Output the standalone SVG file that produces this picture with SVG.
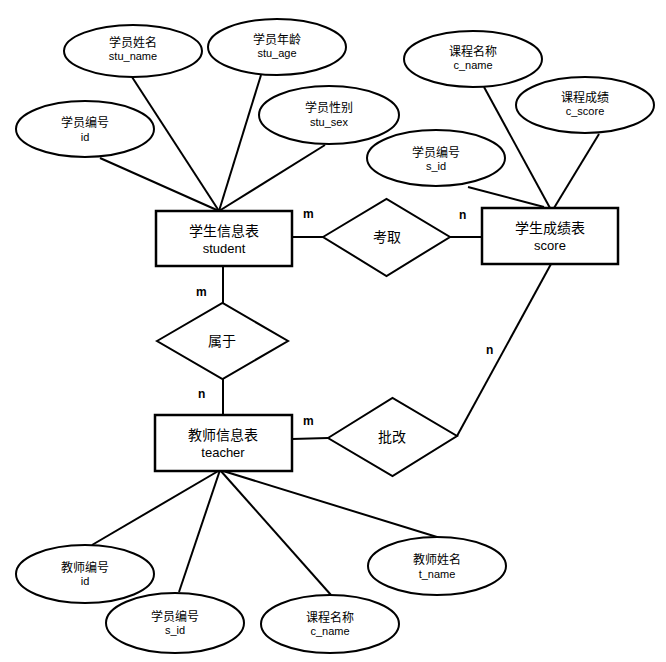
<svg xmlns="http://www.w3.org/2000/svg" width="666" height="662" viewBox="0 0 666 662">
<style>
.e{fill:#fff;stroke:#000;stroke-width:2}
.b{fill:#fff;stroke:#000;stroke-width:2.5}
.d{fill:#fff;stroke:#000;stroke-width:2}
.l{stroke:#000;stroke-width:2;fill:none}
.cn{font-family:"Noto Sans CJK SC","Liberation Sans",sans-serif;font-size:12px;text-anchor:middle;fill:#000}
.en{font-family:"Liberation Sans",sans-serif;font-size:11px;text-anchor:middle;fill:#000}
.bcn{font-family:"Noto Sans CJK SC","Liberation Sans",sans-serif;font-size:14px;text-anchor:middle;fill:#000}
.ben{font-family:"Liberation Sans",sans-serif;font-size:13px;text-anchor:middle;fill:#000}
.c{font-family:"Liberation Sans",sans-serif;font-size:12px;font-weight:bold;fill:#000}
</style>
<rect width="666" height="662" fill="#fff"/>
<g id="connectors">
<line class="l" x1="100" y1="158" x2="219" y2="211"/>
<line class="l" x1="132" y1="77" x2="219" y2="211"/>
<line class="l" x1="261" y1="75" x2="219" y2="211"/>
<line class="l" x1="325" y1="145" x2="219" y2="211"/>
<line class="l" x1="292" y1="237" x2="323" y2="237"/>
<line class="l" x1="450" y1="237" x2="482" y2="237"/>
<line class="l" x1="484" y1="87" x2="550" y2="208"/>
<line class="l" x1="599" y1="134" x2="554" y2="208"/>
<line class="l" x1="468" y1="187" x2="544" y2="207"/>
<line class="l" x1="223" y1="266" x2="223" y2="303"/>
<line class="l" x1="223" y1="379" x2="223" y2="415"/>
<line class="l" x1="292" y1="439" x2="328" y2="438"/>
<polyline class="l" points="457,436 551,264"/>
<line class="l" x1="220" y1="470" x2="92" y2="545"/>
<line class="l" x1="220" y1="470" x2="179" y2="592"/>
<line class="l" x1="220" y1="470" x2="331" y2="595"/>
<line class="l" x1="220" y1="470" x2="437" y2="537"/>
</g>
<g id="attr-stu-name"><ellipse class="e" cx="133" cy="51" rx="69" ry="26"/><text class="cn" x="133" y="47">学员姓名</text><text class="en" x="133" y="60">stu_name</text></g>
<g id="attr-stu-age"><ellipse class="e" cx="277" cy="47" rx="69" ry="28"/><text class="cn" x="277" y="44">学员年龄</text><text class="en" x="277" y="57">stu_age</text></g>
<g id="attr-stu-id"><ellipse class="e" cx="85" cy="129" rx="69" ry="28"/><text class="cn" x="85" y="127">学员编号</text><text class="en" x="85" y="141">id</text></g>
<g id="attr-stu-sex"><ellipse class="e" cx="329" cy="115" rx="70" ry="29"/><text class="cn" x="329" y="112">学员性别</text><text class="en" x="329" y="126">stu_sex</text></g>
<g id="attr-c-name"><ellipse class="e" cx="473" cy="59" rx="69" ry="28"/><text class="cn" x="473" y="56">课程名称</text><text class="en" x="473" y="69">c_name</text></g>
<g id="attr-c-score"><ellipse class="e" cx="585" cy="105" rx="69" ry="28"/><text class="cn" x="585" y="102">课程成绩</text><text class="en" x="585" y="115">c_score</text></g>
<g id="attr-score-sid"><ellipse class="e" cx="436" cy="158" rx="69" ry="28"/><text class="cn" x="436" y="157">学员编号</text><text class="en" x="436" y="170">s_id</text></g>
<g id="student"><rect class="b" x="156" y="211" width="136" height="55"/><text class="bcn" x="224" y="236">学生信息表</text><text class="ben" x="224" y="253">student</text></g>
<g id="score"><rect class="b" x="482" y="208" width="136" height="56"/><text class="bcn" x="550" y="233">学生成绩表</text><text class="ben" x="550" y="250">score</text></g>
<g id="kaoqu"><polygon class="d" points="323,237 386.5,199 450,237 386.5,276"/><text class="bcn" x="387" y="242">考取</text></g>
<g id="shuyu"><polygon class="d" points="157,341 222.5,303 288,341 222.5,379"/><text class="bcn" x="222" y="346">属于</text></g>
<g id="teacher"><rect class="b" x="155" y="415" width="137" height="56"/><text class="bcn" x="223" y="440">教师信息表</text><text class="ben" x="223" y="457">teacher</text></g>
<g id="pigai"><polygon class="d" points="328,438 392.5,398 457,436 392.5,476"/><text class="bcn" x="392" y="442">批改</text></g>
<g id="attr-t-id"><ellipse class="e" cx="85" cy="574" rx="69" ry="29"/><text class="cn" x="85" y="572">教师编号</text><text class="en" x="85" y="585">id</text></g>
<g id="attr-t-sid"><ellipse class="e" cx="175" cy="623" rx="69" ry="30"/><text class="cn" x="175" y="621">学员编号</text><text class="en" x="175" y="634">s_id</text></g>
<g id="attr-t-cname"><ellipse class="e" cx="330" cy="624" rx="69" ry="29"/><text class="cn" x="330" y="622">课程名称</text><text class="en" x="330" y="635">c_name</text></g>
<g id="attr-t-name"><ellipse class="e" cx="437" cy="566" rx="69" ry="29"/><text class="cn" x="437" y="564">教师姓名</text><text class="en" x="437" y="578">t_name</text></g>
<g id="cardinality">
<text class="c" x="303" y="218">m</text>
<text class="c" x="459" y="219">n</text>
<text class="c" x="196" y="296">m</text>
<text class="c" x="198" y="398">n</text>
<text class="c" x="303" y="425">m</text>
<text class="c" x="486" y="354">n</text>
</g>
</svg>
